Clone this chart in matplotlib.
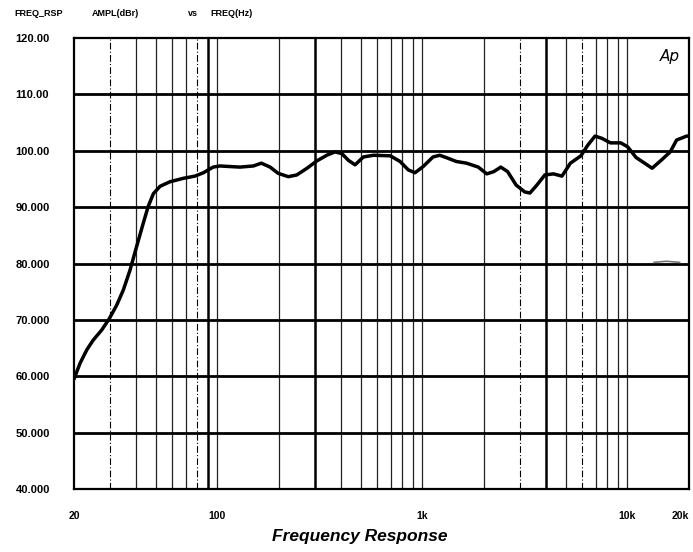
import matplotlib.pyplot as plt

# frequency response trace
freq_hz = [20, 21.4, 23.1, 24.8, 27.3, 29.6, 32.3, 34.8, 37.5, 40.4, 43.5, 46,
           48.8, 52.6, 58.8, 68.1, 77.8, 85.6, 95.4, 103, 115, 129, 150, 164,
           181, 198, 222, 244, 274, 306, 342, 375, 405, 436, 470, 516, 578, 698,
           779, 855, 921, 1010, 1128, 1217, 1306, 1464, 1643, 1876, 2063, 2233,
           2414, 2608, 2870, 3160, 3350, 3620, 3960, 4360, 4800, 5280, 5940,
           6420, 6960, 7520, 8270, 9290, 10040, 11040, 12140, 13220, 14720,
           16200, 17400, 19480, 20000]
ampl_dbr = [59.5, 62.3, 64.7, 66.4, 68.2, 70.1, 72.6, 75.3, 78.8, 83.0, 87.1, 90.1,
            92.4, 93.7, 94.5, 95.1, 95.5, 96.1, 97.1, 97.3, 97.2, 97.1, 97.3, 97.8,
            97.1, 96.0, 95.4, 95.7, 96.9, 98.2, 99.2, 99.8, 99.5, 98.3, 97.5, 98.9, 99.2, 99.1,
            98.1, 96.6, 96.1, 97.2, 98.9, 99.2, 98.8, 98.1, 97.8, 97.1, 95.9, 96.3,
            97.1, 96.3, 93.9, 92.7, 92.5, 93.9, 95.7, 95.9, 95.5, 97.8, 99.1,
            101.0, 102.6, 102.2, 101.4, 101.4, 100.7, 98.8, 97.8, 96.9, 98.4,
            99.8, 101.9, 102.6, 102.6]

# faint second trace near 80 dB at the top end
freq2_hz = [13500, 15500, 18000]
ampl2_dbr = [80.2, 80.4, 80.2]

y_ticks = [40, 50, 60, 70, 80, 90, 100, 110, 120]
y_labels = ['40.000', '50.000', '60.000', '70.000', '80.000', '90.000',
            '100.00', '110.00', '120.00']
x_ticks = [20, 100, 1000, 10000, 20000]
x_labels = ['20', '100', '1k', '10k', '20k']

plt.rcParams['font.family'] = ['Liberation Sans', 'DejaVu Sans']

fig = plt.figure(figsize=(6.93, 5.52), dpi=100)
ax = fig.add_axes([74 / 693, 63 / 552, 615 / 693, 451 / 552])
ax.set_xscale('log')
ax.set_xlim(20, 20000)
ax.set_ylim(40, 120)

# vertical log grid
minor = []
for dec in [10, 100, 1000, 10000]:
    for m in range(1, 10):
        f = m * dec
        if 20 < f < 20000:
            minor.append(f)
thick = [90, 300, 4000]
dashed = [30, 80, 3000, 6000]
for f in minor:
    if f in thick:
        ax.axvline(f, color='black', lw=1.8, zorder=1)
    elif f in dashed:
        ax.axvline(f, color='black', lw=0.8, ls=(0, (6, 2, 1, 2)), zorder=1)
    else:
        ax.axvline(f, color='#222222', lw=0.9, zorder=1)

# horizontal grid
for y in y_ticks[1:-1]:
    ax.axhline(y, color='black', lw=2.0, zorder=1)

ax.plot(freq2_hz, ampl2_dbr, color='#777777', lw=1.2, zorder=2)
ax.plot(freq_hz, ampl_dbr, color='black', lw=2.5, zorder=3,
        solid_joinstyle='round', solid_capstyle='round')

for s in ax.spines.values():
    s.set_linewidth(1.6)

ax.set_yticks(y_ticks)
ax.set_yticklabels(y_labels, fontsize=8, fontweight='bold', ha='left')
ax.tick_params(axis='y', length=0, pad=42)
ax.set_xticks(x_ticks)
ax.set_xticklabels(x_labels, fontsize=7.5, fontweight='bold')
ax.get_xticklabels()[-1].set_horizontalalignment('right')
ax.xaxis.set_minor_locator(plt.NullLocator())
ax.tick_params(axis='x', length=0, pad=16)

ax.text(0.985, 0.975, 'Ap', transform=ax.transAxes, ha='right', va='top',
        fontsize=11, fontstyle='italic', fontfamily='DejaVu Sans')

fig.text(14 / 693, 1 - 14 / 552, 'FREQ_RSP', fontsize=6.5, fontweight='bold', va='center')
fig.text(92 / 693, 1 - 14 / 552, 'AMPL(dBr)', fontsize=6.5, fontweight='bold', va='center')
fig.text(188 / 693, 1 - 14 / 552, 'vs', fontsize=6.5, fontweight='bold', va='center')
fig.text(210 / 693, 1 - 14 / 552, 'FREQ(Hz)', fontsize=6.5, fontweight='bold', va='center')

fig.text(360 / 693, 1 - 537 / 552, 'Frequency Response', fontsize=12.5,
         fontweight='bold', fontstyle='italic', ha='center', va='center')

fig.savefig('out.png', dpi=100)
